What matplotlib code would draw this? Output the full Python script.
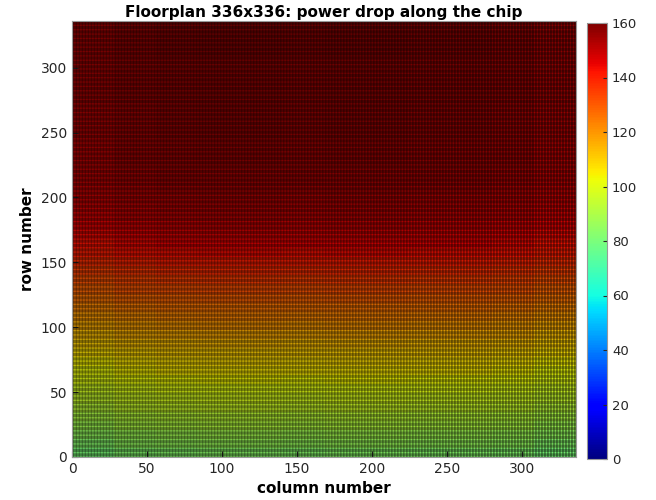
import numpy as np
import matplotlib
matplotlib.use("Agg")
import matplotlib.pyplot as plt

# floorplan size
n_rows = 336
n_cols = 336
row_band = 7    # rows covered by each value of row_levels
col_band = 28   # columns covered by each value of col_offsets

# power value per band of 7 rows, bottom to top
row_levels = [83, 86, 88, 91, 93, 96, 98, 100, 103, 105, 107, 110,
              113, 116, 119, 122, 125, 128, 131, 134, 137, 140, 143, 145,
              147, 149, 151, 152, 153, 154, 155, 155, 156, 156, 156, 157,
              157, 157, 157, 158, 158, 158, 158, 158, 159, 159, 159, 159]
# small change across the columns, left to right
col_offsets = [-3, -1, 0, 0.5, 0.5, 0, 0.5, 0.5, 0, 0, -1, -3]

xticks = [0, 50, 100, 150, 200, 250, 300]
yticks = [0, 50, 100, 150, 200, 250, 300]
cbar_ticks = [0, 20, 40, 60, 80, 100, 120, 140, 160]

rows = np.repeat(np.array(row_levels, dtype=float), row_band)
cols = np.repeat(np.array(col_offsets, dtype=float), col_band)
power = rows[:, None] + cols[None, :]

plt.rcParams["font.family"] = "DejaVu Sans"
fig = plt.figure(figsize=(6.56, 5.0), dpi=100)
ax = fig.add_axes([0.1098, 0.086, 0.768, 0.872])
cax = fig.add_axes([0.895, 0.082, 0.0305, 0.872])

x_edges = np.arange(n_cols + 1)
y_edges = np.arange(n_rows + 1)
mesh = ax.pcolormesh(x_edges, y_edges, power, cmap="jet", vmin=0, vmax=160,
                     edgecolors="none")
# cell borders, pcolor style
ax.vlines(x_edges, 0, n_rows, colors="k", linewidth=0.27, snap=False)
ax.hlines(y_edges, 0, n_cols, colors="k", linewidth=0.27, snap=False)

ax.set_xlim(0, n_cols)
ax.set_ylim(0, n_rows)
ax.set_xticks(xticks)
ax.set_yticks(yticks)
ax.tick_params(direction="in", length=4, colors="#262626", labelsize=10)
for s in ax.spines.values():
    s.set_color("#999999")
ax.set_xlabel("column number", fontsize=11, fontweight="bold", labelpad=4)
ax.set_ylabel("row number", fontsize=11, fontweight="bold", labelpad=4)
ax.set_title("Floorplan 336x336: power drop along the chip",
             fontsize=11, fontweight="bold", pad=3)

cb = fig.colorbar(mesh, cax=cax, ticks=cbar_ticks)
cb.ax.tick_params(direction="in", length=3, colors="#262626", labelsize=9.5)
cb.outline.set_edgecolor("#999999")

fig.savefig("out.png", dpi=100)
